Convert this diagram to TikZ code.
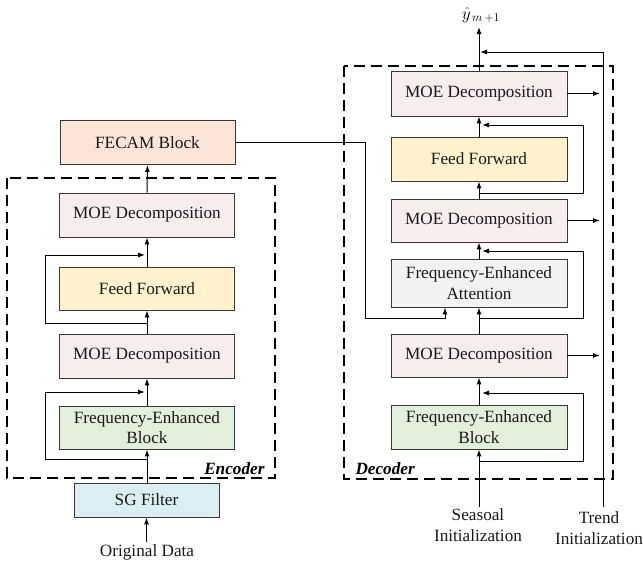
\documentclass[tikz,border=0pt]{standalone}
\usepackage{fontspec}
\setmainfont{Liberation Serif}
\usetikzlibrary{arrows.meta}
\definecolor{cfecam}{HTML}{FBE5D6}
\definecolor{cmoe}{HTML}{F8EDED}
\definecolor{cff}{HTML}{FFF2CC}
\definecolor{cfeb}{HTML}{E2EFDA}
\definecolor{csg}{HTML}{DAEEF3}
\definecolor{cfea}{HTML}{F2F2F2}
\begin{document}
\begin{tikzpicture}[x=1pt,y=-1pt,
  blk/.style={draw=black!78, line width=0.9pt, minimum width=175pt, minimum height=44pt, inner sep=0pt, align=center, font=\fontsize{17.2}{20.5}\selectfont, text=black!90},
  lbl/.style={inner sep=2pt, align=center, font=\fontsize{17.2}{20.5}\selectfont, text=black!90},
  arr/.style={-{Latex[length=7pt,width=5pt]}, line width=1pt},
  sk/.style={-{Latex[length=7pt,width=5pt]}, line width=1pt, shorten >=2pt},
  frame/.style={dash pattern=on 11pt off 6pt, line width=2pt}]
\useasboundingbox (0,0) rectangle (643,568);

% frames
\draw[frame] (7,178) rectangle (275,478);
\draw[frame] (344,66) rectangle (613,479);
\node[anchor=base east, font=\fontsize{17.2}{20.5}\selectfont\bfseries\itshape] (enclbl) at (268,474) {Encoder};
\node[anchor=base west, font=\fontsize{17.2}{20.5}\selectfont\bfseries\itshape] (declbl) at (352,474) {Decoder};

% encoder
\node[blk, fill=cfecam] (fecam) at (147.5,142.5) {FECAM Block};
\node[blk, fill=cmoe] (emoe1) at (147,215) {MOE Decomposition};
\node[blk, fill=cff, minimum height=43pt] (eff) at (147,288.5) {Feed Forward};
\node[blk, fill=cmoe] (emoe2) at (147,356) {MOE Decomposition};
\node[blk, fill=cfeb, minimum height=43pt] (efeb) at (147,427.5) {Frequency-Enhanced\\Block};
\node[blk, fill=csg, minimum width=145pt, minimum height=34pt] (sg) at (146.5,500) {SG Filter};
\node[lbl] (orig) at (147,552) {Original Data};

\draw[arr] (orig.north -| sg.south) -- (sg.south);
\draw[arr] (sg.north -| efeb.south) -- (efeb.south);
\draw[arr] (efeb.north) -- (emoe2.south);
\draw[arr] (emoe2.north) -- (eff.south);
\draw[arr] (eff.north) -- (emoe1.south);
\draw[arr] (emoe1.north) -- (fecam.south);

\coordinate (es1) at (147,459);
\coordinate (ee1) at (147,392);
\coordinate (es2) at (147,323);
\coordinate (ee2) at (147,255);
\draw[sk] (es1) -- (45,459) -- (45,392) -- (ee1);
\draw[sk] (es2) -- (45,323) -- (45,255) -- (ee2);

% decoder
\node[blk, fill=cmoe, minimum width=176pt, minimum height=45pt] (dmoe1) at (479,93.5) {MOE Decomposition};
\node[blk, fill=cff, minimum width=176pt] (dff) at (479,159) {Feed Forward};
\node[blk, fill=cmoe, minimum width=176pt, minimum height=43pt] (dmoe2) at (479,220.5) {MOE Decomposition};
\node[blk, fill=cfea, minimum width=176pt, minimum height=48pt] (dfea) at (479,283) {Frequency-Enhanced\\Attention};
\node[blk, fill=cmoe, minimum width=176pt, minimum height=43pt] (dmoe3) at (479,355.5) {MOE Decomposition};
\node[blk, fill=cfeb, minimum width=176pt] (dfeb) at (479,427) {Frequency-Enhanced\\Block};
\node[lbl] (seas) at (478,525) {Seasoal\\Initialization};
\node[lbl] (trend) at (599,528) {Trend\\Initialization};
\node[inner sep=0pt, font=\fontsize{17.2}{20.5}\selectfont] (yhat) at (481,15) {$\hat{y}_{\,m\,+1}$};

\draw[arr] (seas.north -| dfeb.south) -- (dfeb.south);
\draw[arr] (dfeb.north) -- (dmoe3.south);
\draw[arr] (dmoe3.north) -- (dfea.south);
\draw[arr] (dfea.north) -- (dmoe2.south);
\draw[arr] (dmoe2.north) -- (dff.south);
\draw[arr] (dff.north) -- (dmoe1.south);
\coordinate (ytip) at (479,27);
\draw[arr] (dmoe1.north) -- (ytip);

\coordinate (ds1) at (479,461);
\coordinate (de1) at (479,393);
\coordinate (ds2) at (479,318);
\coordinate (de2) at (479,251);
\coordinate (ds3) at (479,193);
\coordinate (de3) at (479,125);
\draw[sk, shorten >=3pt] (ds1) -- (583,461) -- (583,393) -- (de1);
\draw[sk, shorten >=3pt] (ds2) -- (583,318) -- (583,251) -- (de2);
\draw[sk, shorten >=3pt] (ds3) -- (583,193) -- (583,125) -- (de3);

% trend path
\coordinate (tb) at (603,507);
\coordinate (tt) at (479,52);
\draw[arr, shorten >=1pt] (tb) -- (603,52) -- (tt);
\draw[arr, shorten >=3pt] (dmoe1.east) -- (dmoe1.east -| tb);
\draw[arr, shorten >=3pt] (dmoe2.east) -- (dmoe2.east -| tb);
\draw[arr, shorten >=3pt] (dmoe3.east) -- (dmoe3.east -| tb);

% cross connection
\coordinate (fin) at ([xshift=-34pt]dfea.south);
\draw[arr] (fecam.east) -- (365,142.5) -- (365,318) -- (445,318) -- (fin);
\end{tikzpicture}
\end{document}
